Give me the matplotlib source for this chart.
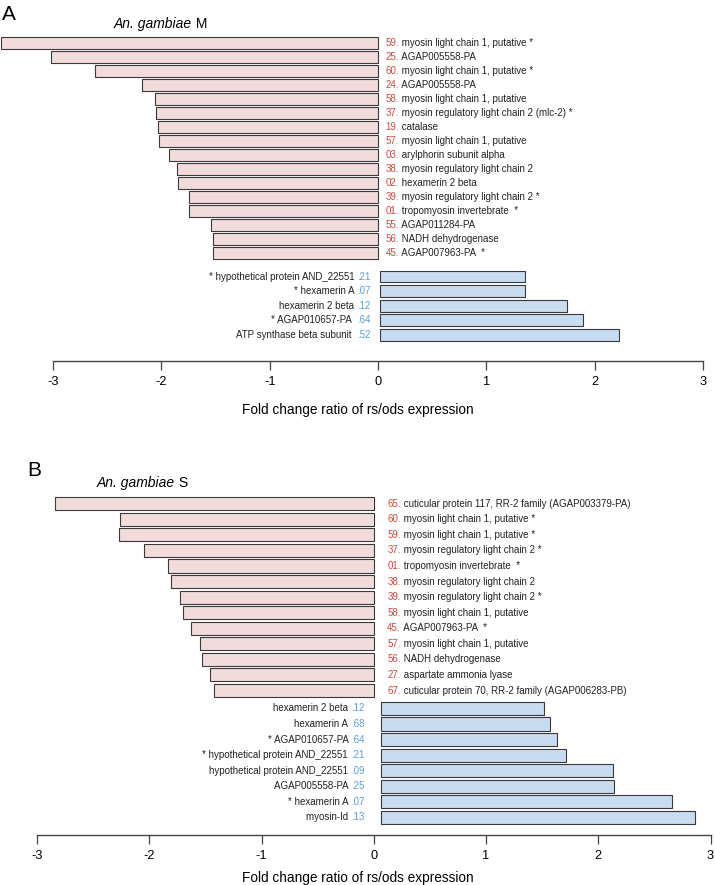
import matplotlib
matplotlib.use("Agg")
import matplotlib.pyplot as plt
import matplotlib.patheffects as pe

plt.rcParams['font.family'] = ['Liberation Sans Narrow', 'Liberation Sans', 'DejaVu Sans']

# Panel A: An. gambiae M
a_down_nums = ["59.", "25.", "60.", "24.", "58.", "37.", "19.", "57.",
               "03.", "38.", "02.", "39.", "01.", "55.", "56.", "45."]
a_down_names = ["myosin light chain 1, putative *", "AGAP005558-PA",
                "myosin light chain 1, putative *", "AGAP005558-PA",
                "myosin light chain 1, putative",
                "myosin regulatory light chain 2 (mlc-2) *", "catalase",
                "myosin light chain 1, putative", "arylphorin subunit alpha",
                "myosin regulatory light chain 2", "hexamerin 2 beta",
                "myosin regulatory light chain 2 *", "tropomyosin invertebrate  *",
                "AGAP011284-PA", "NADH dehydrogenase", "AGAP007963-PA  *"]
a_down_vals = [-3.48, -3.02, -2.61, -2.18, -2.06, -2.05, -2.03, -2.02,
               -1.93, -1.86, -1.85, -1.75, -1.75, -1.54, -1.52, -1.52]

a_up_names = ["* hypothetical protein AND_22551", "* hexamerin A",
              "hexamerin 2 beta", "* AGAP010657-PA ", "ATP synthase beta subunit "]
a_up_nums = [".21", ".07", ".12", ".64", ".52"]
a_up_vals = [1.36, 1.36, 1.74, 1.89, 2.22]

# Panel B: An. gambiae S
b_down_nums = ["65.", "60.", "59.", "37.", "01.", "38.", "39.", "58.",
               "45.", "57.", "56.", "27.", "67."]
b_down_names = ["cuticular protein 117, RR-2 family (AGAP003379-PA)",
                "myosin light chain 1, putative *", "myosin light chain 1, putative *",
                "myosin regulatory light chain 2 *", "tropomyosin invertebrate  *",
                "myosin regulatory light chain 2", "myosin regulatory light chain 2 *",
                "myosin light chain 1, putative", "AGAP007963-PA  *",
                "myosin light chain 1, putative", "NADH dehydrogenase",
                "aspartate ammonia lyase",
                "cuticular protein 70, RR-2 family (AGAP006283-PB)"]
b_down_vals = [-2.84, -2.26, -2.27, -2.05, -1.83, -1.81, -1.73, -1.70,
               -1.63, -1.55, -1.53, -1.46, -1.42]

b_up_names = ["hexamerin 2 beta", "hexamerin A", "* AGAP010657-PA",
              "* hypothetical protein AND_22551", "hypothetical protein AND_22551",
              "AGAP005558-PA", "* hexamerin A", "myosin-Id"]
b_up_nums = [".12", ".68", ".64", ".21", ".09", ".25", ".07", ".13"]
b_up_vals = [1.52, 1.57, 1.63, 1.71, 2.13, 2.14, 2.66, 2.86]

ticks = [-3, -2, -1, 0, 1, 2, 3]

PINK = "#f2dbdb"
BLUE = "#c7dbf1"
RED_TXT = "#d2473f"
BLUE_TXT = "#5b9be0"
EDGE = "#3a3a3a"
shadow = [pe.SimplePatchShadow(offset=(0.7, -0.7), shadow_rgbFace="0.45", alpha=0.7), pe.Normal()]


def draw_panel(ax, down_nums, down_names, down_vals, up_names, up_nums, up_vals,
               gap, up_pitch, up_left, xlim, ylim, lab_right, lab_left, fs, labelpad):
    n = len(down_vals)
    y_down = list(range(n))
    y_up = [n - 1 + gap + up_pitch * j for j in range(len(up_vals))]

    ax.barh(y_down, down_vals, height=0.84, color=PINK, edgecolor=EDGE,
            linewidth=0.8, path_effects=shadow)
    ax.barh(y_up, [v - up_left for v in up_vals], left=up_left, height=0.84,
            color=BLUE, edgecolor=EDGE, linewidth=0.8, path_effects=shadow)

    for y, num, name in zip(y_down, down_nums, down_names):
        t = ax.text(lab_right, y, num, color=RED_TXT, fontsize=fs,
                    ha="left", va="center")
        ax.annotate(" " + name, xy=(1, 0), xycoords=t, ha="left", va="bottom",
                    fontsize=fs, color="#222222")
    for y, num, name in zip(y_up, up_nums, up_names):
        t = ax.text(lab_left, y, num, color=BLUE_TXT, fontsize=fs,
                    ha="right", va="center")
        ax.annotate(name + " ", xy=(0, 0), xycoords=t, ha="right", va="bottom",
                    fontsize=fs, color="#222222")

    ax.set_xlim(*xlim)
    ax.set_ylim(*ylim)
    for s in ["top", "left", "right"]:
        ax.spines[s].set_visible(False)
    ax.spines["bottom"].set_bounds(-3, 3)
    ax.spines["bottom"].set_color("#444444")
    ax.spines["bottom"].set_linewidth(1.0)
    ax.set_yticks([])
    ax.set_xticks(ticks)
    ax.set_xticklabels([str(t) for t in ticks], family="Liberation Sans", fontsize=9.2)
    ax.tick_params(axis="x", length=6.5, width=0.9, color="#444444", pad=4)
    ax.set_xlabel("Fold change ratio of rs/ods expression", family="Liberation Sans",
                  fontsize=9.8, labelpad=labelpad)


fig = plt.figure(figsize=(7.15, 8.85), dpi=100)

# panel A: axis line at y=361 px, rows 14 px apart starting at 43 px
axA = fig.add_axes([0, 1 - 361 / 885, 1, (361 - 30) / 885])
draw_panel(axA, a_down_nums, a_down_names, a_down_vals, a_up_names, a_up_nums, a_up_vals,
           gap=1.68, up_pitch=1.04, up_left=0.02, xlim=(-3.49, 3.11),
           ylim=(22.71, -0.93), lab_right=0.07, lab_left=-0.07, fs=7.0, labelpad=11)

# panel B: axis line at y=835 px, rows 15.57 px apart starting at 503.7 px
axB = fig.add_axes([0, 1 - 835 / 885, 1, (835 - 490) / 885])
draw_panel(axB, b_down_nums, b_down_names, b_down_vals, b_up_names, b_up_nums, b_up_vals,
           gap=1.15, up_pitch=1.0, up_left=0.06, xlim=(-3.33, 3.04),
           ylim=(21.28, -0.88), lab_right=0.12, lab_left=-0.085, fs=7.0, labelpad=7)

# panel letters and titles
fig.text(2 / 715, 1 - 15 / 885, "A", family="Liberation Sans", fontsize=15, va="center")
fig.text(27 / 715, 1 - 470 / 885, "B", family="Liberation Sans", fontsize=15, va="center")

for x, y, strain in [(114, 24, "M"), (97, 483, "S")]:
    t = fig.text(x / 715, 1 - y / 885, "An. gambiae", family="Liberation Sans",
                 fontsize=10, style="italic", va="center")
    axA.annotate(" " + strain, xy=(1, 0), xycoords=t, ha="left", va="bottom",
                 family="Liberation Sans", fontsize=10, annotation_clip=False)

fig.savefig("out.png", dpi=100)
